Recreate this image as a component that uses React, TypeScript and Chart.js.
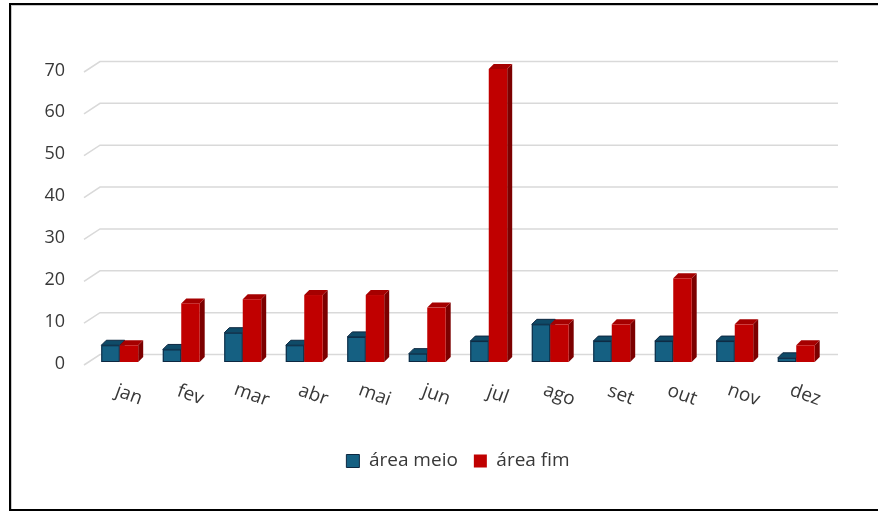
import React, { useEffect, useRef } from "react";
import { Chart, registerables } from "chart.js";

Chart.register(...registerables);

const months = ["jan", "fev", "mar", "abr", "mai", "jun", "jul", "ago", "set", "out", "nov", "dez"];
const areaMeio = [4, 3, 7, 4, 6, 2, 5, 9, 5, 5, 5, 1];
const areaFim = [4, 14, 15, 16, 16, 13, 70, 9, 9, 20, 9, 4];
const yTicks = [0, 10, 20, 30, 40, 50, 60, 70];
const seriesNames = ["área meio", "área fim"];

const FONT = "'Open Sans', 'Liberation Sans', sans-serif";
const TEXT = "#383838";
const DX = 5;
const DY = 5;

const faces = [
  { front: "#156082", top: "#0F4B68", side: "#0B3B52", stroke: "#0E2841" },
  { front: "#C00000", top: "#A50000", side: "#7C0000", stroke: "" },
];

const bars3d = {
  id: "bars3d",
  beforeDatasetsDraw(chart: any) {
    const { ctx, chartArea } = chart;
    const ys = chart.scales.y;
    ctx.save();
    ctx.strokeStyle = "#D9D9D9";
    ctx.lineWidth = 1.5;
    for (const v of yTicks) {
      const py = ys.getPixelForValue(v);
      ctx.beginPath();
      ctx.moveTo(chartArea.left - 5, py + 3);
      ctx.lineTo(chartArea.left + 11, py - 7.5);
      ctx.lineTo(chartArea.right + 11, py - 7.5);
      ctx.stroke();
    }
    const metas = chart.data.datasets.map((_: any, i: number) => chart.getDatasetMeta(i));
    const n = chart.data.labels.length;
    for (let i = 0; i < n; i++) {
      metas.forEach((meta: any, d: number) => {
        const el = meta.data[i];
        if (!el) return;
        const { x, y: top, base, width } = el.getProps(["x", "y", "base", "width"], true);
        const x0 = x - width / 2;
        const x1 = x + width / 2;
        const c = faces[d];
        ctx.lineWidth = 1;
        ctx.fillStyle = c.side;
        ctx.beginPath();
        ctx.moveTo(x1, top);
        ctx.lineTo(x1 + DX, top - DY);
        ctx.lineTo(x1 + DX, base - DY);
        ctx.lineTo(x1, base);
        ctx.closePath();
        ctx.fill();
        ctx.fillStyle = c.top;
        ctx.beginPath();
        ctx.moveTo(x0, top);
        ctx.lineTo(x0 + DX, top - DY);
        ctx.lineTo(x1 + DX, top - DY);
        ctx.lineTo(x1, top);
        ctx.closePath();
        ctx.fill();
        if (c.stroke) {
          ctx.strokeStyle = c.stroke;
          ctx.stroke();
        }
        ctx.fillStyle = c.front;
        ctx.fillRect(x0, top, width, base - top);
        if (c.stroke) {
          ctx.strokeStyle = c.stroke;
          ctx.strokeRect(x0 + 0.5, top + 0.5, width - 1, base - top - 1);
        }
      });
    }
    ctx.restore();
    return false;
  },
  afterDraw(chart: any) {
    const { ctx } = chart;
    const xs = chart.scales.x;
    ctx.save();
    ctx.font = `19px ${FONT}`;
    ctx.fillStyle = TEXT;
    ctx.textAlign = "center";
    ctx.textBaseline = "middle";
    chart.data.labels.forEach((lab: string, i: number) => {
      const px = xs.getPixelForValue(i) + 9;
      ctx.save();
      ctx.translate(px, 395);
      ctx.rotate((20 * Math.PI) / 180);
      ctx.fillText(lab, 0, 0);
      ctx.restore();
    });
    ctx.restore();
  },
};

export default function App() {
  const ref = useRef<HTMLCanvasElement | null>(null);
  useEffect(() => {
    if (!ref.current) return;
    const chart = new Chart(ref.current, {
      type: "bar",
      data: {
        labels: months,
        datasets: [
          {
            label: seriesNames[0],
            data: areaMeio,
            backgroundColor: faces[0].front,
            borderColor: faces[0].stroke,
            borderWidth: 1,
            categoryPercentage: 0.6,
            barPercentage: 1,
          },
          {
            label: seriesNames[1],
            data: areaFim,
            backgroundColor: faces[1].front,
            borderWidth: 0,
            categoryPercentage: 0.6,
            barPercentage: 1,
          },
        ],
      },
      options: {
        responsive: false,
        animation: false,
        layout: { padding: { left: 10, right: 51, top: 69, bottom: 30.5 } },
        plugins: {
          tooltip: { enabled: false },
          legend: {
            position: "bottom",
            fullSize: false,
            labels: {
              font: { family: FONT, size: 19 },
              color: TEXT,
              boxWidth: 13,
              boxHeight: 13,
              padding: 16,
            },
          },
        },
        scales: {
          x: {
            ticks: { display: false },
            grid: { display: false },
            border: { display: false },
            afterFit: (s: any) => {
              s.height = 73.5;
            },
          },
          y: {
            min: 0,
            max: 70,
            ticks: {
              stepSize: 10,
              font: { family: FONT, size: 18 },
              color: TEXT,
              padding: 24,
              labelOffset: 1.5,
            },
            grid: { display: false, drawTicks: false },
            border: { display: false },
            afterFit: (s: any) => {
              s.width = 79;
            },
          },
        },
      },
      plugins: [bars3d],
    } as any);
    return () => chart.destroy();
  }, []);

  return (
    <div
      style={{
        position: "fixed",
        left: 0,
        top: 0,
        width: 878,
        height: 511,
        overflow: "hidden",
        background: "#fff",
      }}
    >
      <canvas ref={ref} width={878} height={511} style={{ position: "absolute", left: 0, top: 0, display: "block" }} />
      <div
        style={{
          position: "absolute",
          left: 9,
          top: 3,
          width: 900,
          height: 508,
          boxSizing: "border-box",
          border: "2px solid #000",
          boxShadow: "inset 1px 1px 0 #c8c8c8",
          pointerEvents: "none",
        }}
      />
    </div>
  );
}
